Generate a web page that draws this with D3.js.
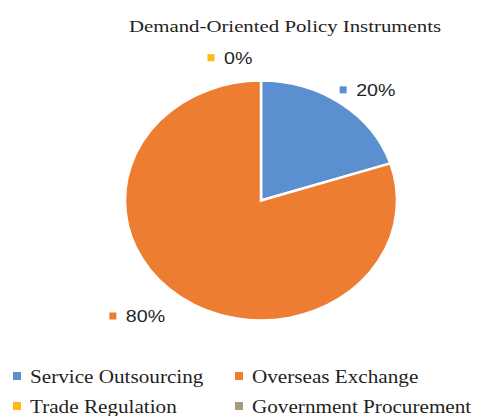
<!DOCTYPE html>
<html>
<head>
<meta charset="utf-8">
<script src="https://cdn.jsdelivr.net/npm/d3@7"></script>
<style>
  html, body { margin: 0; padding: 0; background: #ffffff; }
  svg { display: block; }
</style>
</head>
<body>
<svg id="chart" width="478" height="416"></svg>
<script>
// Share of demand-oriented policy instruments (percent)
const categories = ["Service Outsourcing", "Overseas Exchange", "Trade Regulation", "Government Procurement"];
const shares = [20, 80, 0, 0];
const labels = ["20%", "80%", "0%", ""];
const colors = ["#5b8fd0", "#ed7d31", "#fdbb12", "#a89880"];

const svg = d3.select("#chart");
// The whole chart is drawn wider than tall; text is stretched by the same factor
const stretch = 1.19;
const serif = "'Liberation Serif', 'Times New Roman', serif";
const sans = "'Liberation Sans', Arial, sans-serif";

function stretchedText(parent, x, y, str, font, size, anchor) {
  return parent.append("text")
    .attr("transform", `translate(${x},${y}) scale(${stretch},1)`)
    .attr("text-anchor", anchor || "start")
    .style("font-family", font)
    .style("font-size", size + "px")
    .attr("fill", "#1f1f1f")
    .text(str);
}

// Chart title
stretchedText(svg, 285, 32, "Demand-Oriented Policy Instruments", serif, 17.5, "middle");

// Pie geometry
const cx = 261, cy = 200.5, ry = 120, rx = 136;
const pie = d3.pie().sort(null).value(d => d.v);
const arcs = pie(shares.map((v, i) => ({ v, i })));
const arc = d3.arc().innerRadius(0).outerRadius(ry);

const g = svg.append("g")
  .attr("transform", `translate(${cx},${cy}) scale(${rx / ry},1)`);

g.selectAll("path")
  .data(arcs.filter(a => a.data.v > 0))
  .join("path")
  .attr("d", arc)
  .attr("fill", d => colors[d.data.i])
  .attr("stroke", "#ffffff")
  .attr("stroke-width", 2.5)
  .attr("vector-effect", "non-scaling-stroke");

// Data labels placed outside the slices along each slice's mid-angle
const labelRadius = [1.14, 1.19, 1.19, 1.2];
const labelShift = [[-9, 0], [-53, 0], [-50, 0], [0, 0]];
arcs.forEach(a => {
  const i = a.data.i;
  if (!labels[i]) return;
  const mid = (a.startAngle + a.endAngle) / 2;
  const r = ry * labelRadius[i];
  const x = cx + Math.sin(mid) * r * (rx / ry) + labelShift[i][0];
  const y = cy - Math.cos(mid) * r + labelShift[i][1];
  const lg = svg.append("g").attr("transform", `translate(${x},${y})`);
  lg.append("rect")
    .attr("x", -3.5).attr("y", -3.5).attr("width", 7).attr("height", 7)
    .attr("fill", colors[i]);
  stretchedText(lg, 13, 6, labels[i], sans, 16.5);
});

// Legend in two columns
const legendCols = [13, 235];
const legendRows = [376, 406];
const legend = svg.append("g");
categories.forEach((c, i) => {
  const x = legendCols[i % 2], y = legendRows[Math.floor(i / 2)];
  legend.append("rect")
    .attr("x", x).attr("y", y - 4).attr("width", 8).attr("height", 8)
    .attr("fill", colors[i]);
  stretchedText(legend, x + 17, y + 6.5, c, serif, 17.8);
});
</script>
</body>
</html>
